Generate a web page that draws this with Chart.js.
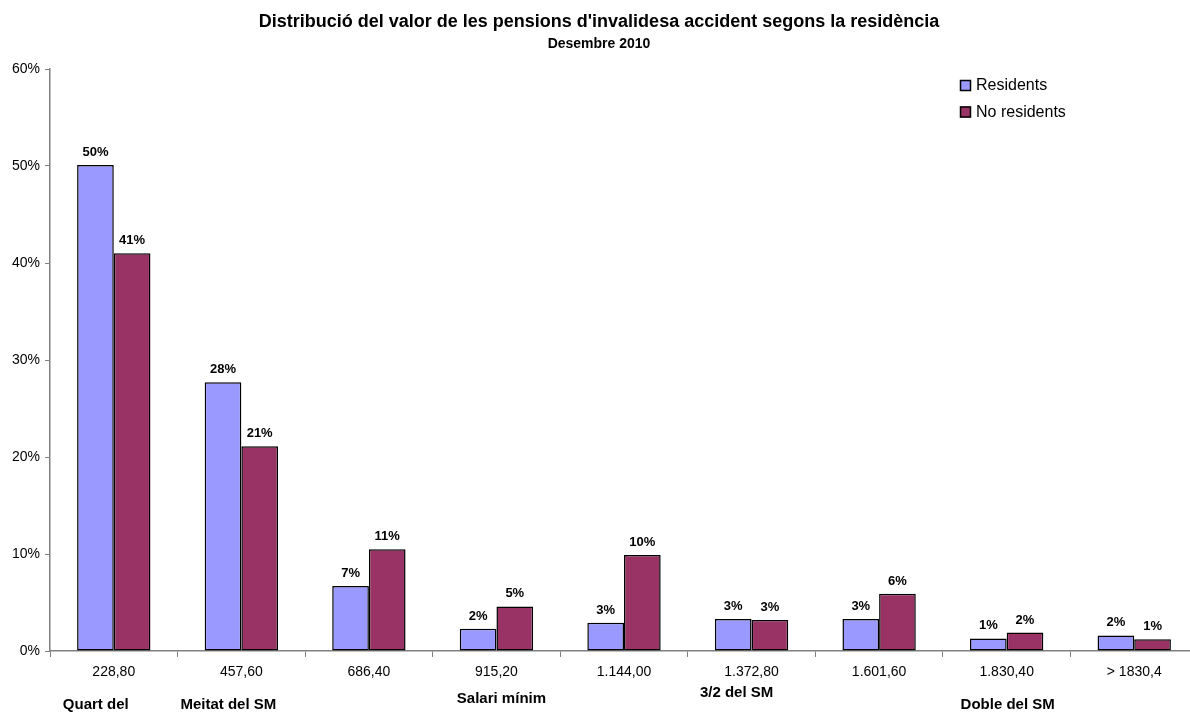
<!DOCTYPE html>
<html>
<head>
<meta charset="utf-8">
<script src="https://cdn.jsdelivr.net/npm/chart.js"></script>
<style>
  html, body { margin: 0; padding: 0; background: #fff; overflow: hidden; }
</style>
</head>
<body>
<canvas id="myChart" width="1200" height="712"></canvas>
<script>
// values (percent)
const categories = ['228,80', '457,60', '686,40', '915,20', '1.144,00', '1.372,80', '1.601,60', '1.830,40', '> 1830,4'];
const residents = [50.1, 27.7, 6.7, 2.3, 2.9, 3.3, 3.3, 1.3, 1.6];
const noResidents = [41.0, 21.1, 10.5, 4.6, 9.9, 3.2, 5.9, 1.9, 1.2];
const bandLabels = ['Quart del', 'Meitat del SM', '', 'Salari mínim', '', '3/2 del SM', '', 'Doble del SM', ''];

const FONT = "'Liberation Sans', Arial, sans-serif";
Chart.defaults.font.family = FONT;
Chart.defaults.color = '#000';

// bold % above each bar
const valueLabels = {
  id: 'valueLabels',
  afterDatasetsDraw(chart) {
    const ctx = chart.ctx;
    ctx.save();
    ctx.font = 'bold 13px ' + FONT;
    ctx.fillStyle = '#000';
    ctx.textAlign = 'center';
    ctx.textBaseline = 'alphabetic';
    chart.data.datasets.forEach((ds, di) => {
      chart.getDatasetMeta(di).data.forEach((bar, i) => {
        ctx.fillText(Math.round(ds.data[i]) + '%', bar.x, bar.y - 9);
      });
    });
    ctx.restore();
  }
};

// legend inside the plot, top right
const legendBoxes = {
  id: 'legendBoxes',
  afterDraw(chart) {
    const { ctx, chartArea } = chart;
    const x = chartArea.right - 238;
    let y = chartArea.top + 16;
    ctx.save();
    ctx.font = '16px ' + FONT;
    ctx.textBaseline = 'middle';
    chart.data.datasets.forEach(ds => {
      ctx.fillStyle = ds.backgroundColor;
      ctx.fillRect(x, y - 5, 11, 11);
      ctx.strokeStyle = '#000';
      ctx.lineWidth = 1.5;
      ctx.strokeRect(x + 0.5, y - 4.5, 10, 10);
      ctx.fillStyle = '#000';
      ctx.fillText(ds.label, x + 16, y + 1);
      y += 26.5;
    });
    ctx.restore();
  }
};

// second row of bold category captions under the axis
const bandPlace = { 0: [-18, 705], 1: [-13, 705], 3: [5, 699], 5: [-15, 693], 7: [1, 705] };
const bandText = {
  id: 'bandText',
  afterDraw(chart) {
    const ctx = chart.ctx;
    const xs = chart.scales.x;
    ctx.save();
    ctx.font = 'bold 15px ' + FONT;
    ctx.fillStyle = '#000';
    ctx.textAlign = 'center';
    ctx.textBaseline = 'middle';
    bandLabels.forEach((t, i) => {
      if (!t) return;
      const p = bandPlace[i];
      ctx.fillText(t, xs.getPixelForValue(i) + p[0], p[1]);
    });
    ctx.restore();
  }
};

new Chart(document.getElementById('myChart'), {
  type: 'bar',
  data: {
    labels: categories,
    datasets: [
      {
        label: 'Residents',
        data: residents,
        backgroundColor: '#9999FF',
        borderColor: '#000',
        borderWidth: 1.5,
        borderSkipped: false
      },
      {
        label: 'No residents',
        data: noResidents,
        backgroundColor: '#993366',
        borderColor: '#000',
        borderWidth: 1.5,
        borderSkipped: false
      }
    ]
  },
  options: {
    responsive: false,
    animation: false,
    devicePixelRatio: 1,
    categoryPercentage: 0.575,
    barPercentage: 1.0,
    layout: { padding: { left: 0, right: 2, top: 0, bottom: 0 } },
    plugins: {
      legend: { display: false },
      tooltip: { enabled: false },
      title: {
        display: true,
        text: "Distribució del valor de les pensions d'invalidesa accident segons la residència",
        font: { size: 18, weight: 'bold' },
        color: '#000',
        padding: { top: 11, bottom: 2 }
      },
      subtitle: {
        display: true,
        text: 'Desembre 2010',
        font: { size: 14, weight: 'bold' },
        color: '#000',
        padding: { top: 1, bottom: 16.6 }
      }
    },
    scales: {
      x: {
        offset: true,
        grid: { display: true, offset: true, drawOnChartArea: false, tickLength: 6, color: '#808080' },
        border: { color: '#808080', width: 1.5 },
        ticks: { font: { size: 14 }, color: '#000', padding: 7, maxRotation: 0, autoSkip: false },
        afterFit(scale) { scale.height = 61; }
      },
      y: {
        min: 0,
        max: 60,
        grid: { display: true, drawOnChartArea: false, tickLength: 5, color: '#808080' },
        border: { color: '#808080', width: 1.5 },
        ticks: { stepSize: 10, font: { size: 14 }, color: '#000', padding: 5, callback: v => v + '%' },
        afterFit(scale) { scale.width = 50; }
      }
    }
  },
  plugins: [valueLabels, legendBoxes, bandText]
});
</script>
</body>
</html>
